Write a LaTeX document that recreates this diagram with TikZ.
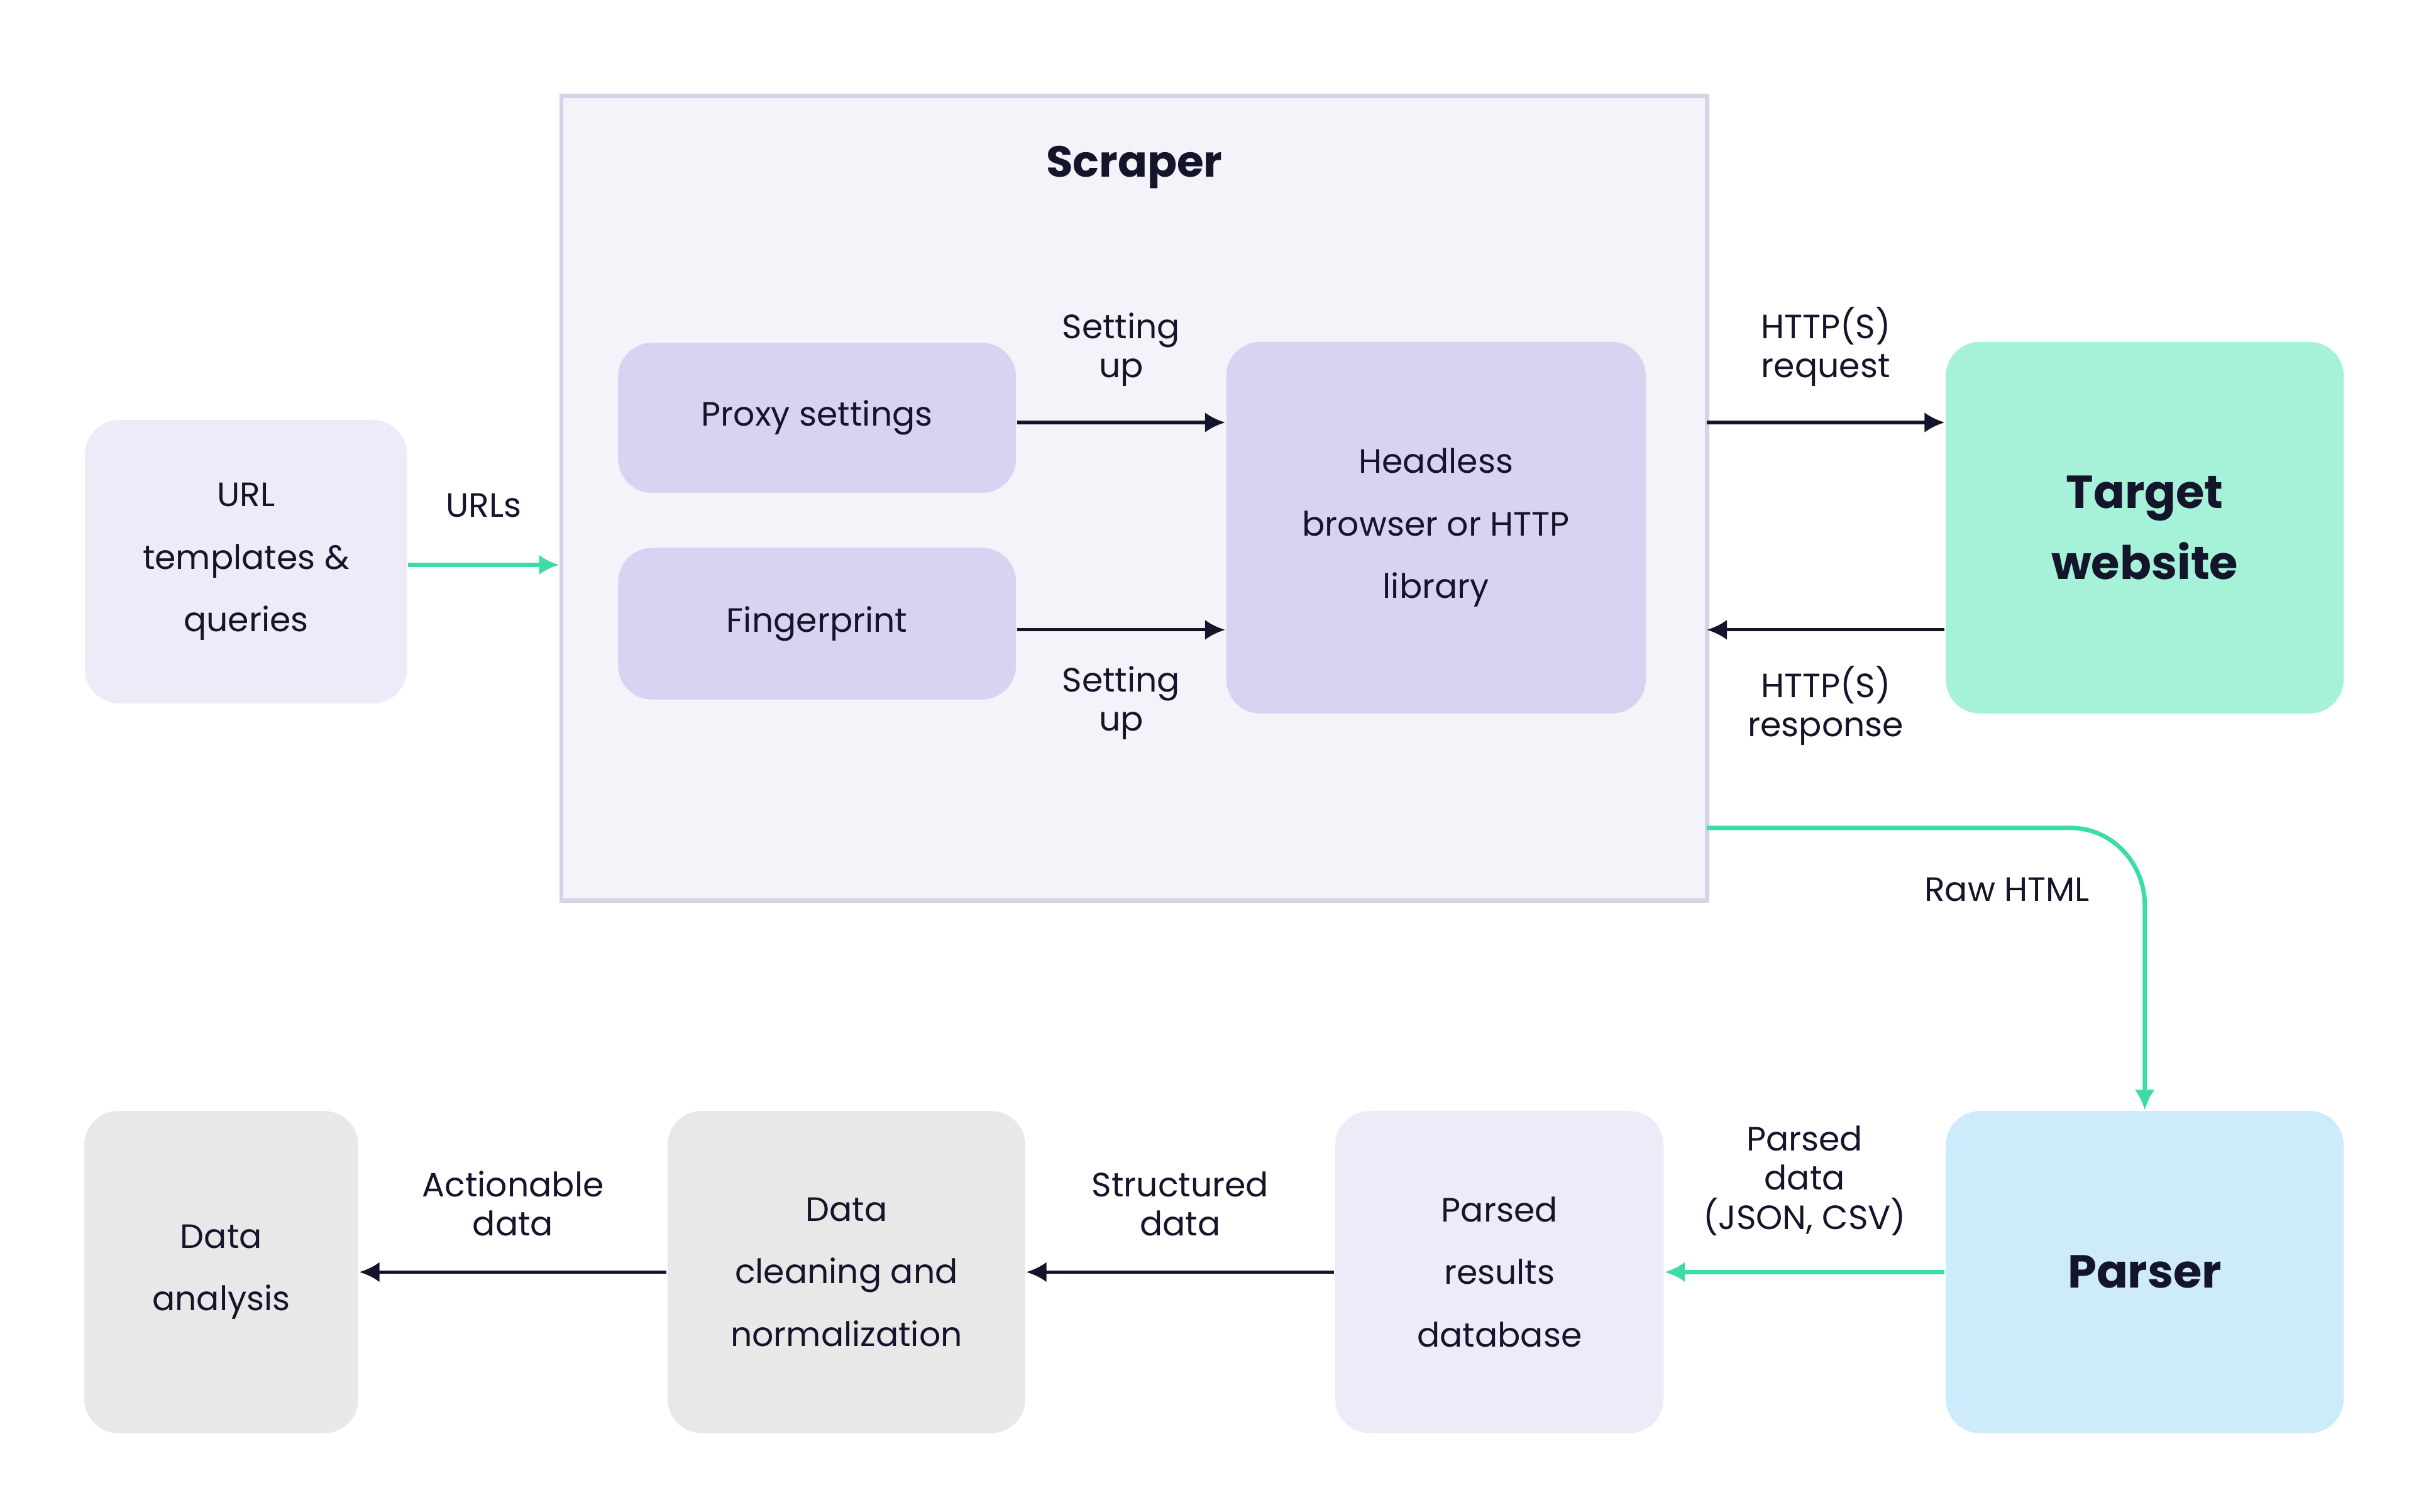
\documentclass[tikz,border=0pt]{standalone}
\usepackage{fontspec}
\setmainfont{Poppins}
\usetikzlibrary{arrows.meta,positioning}
\definecolor{lav}{HTML}{EEEBF8}
\definecolor{frame}{HTML}{F4F3F9}
\definecolor{framedraw}{HTML}{D6D3E8}
\definecolor{purp}{HTML}{D9D3F2}
\definecolor{mint}{HTML}{A6F2D9}
\definecolor{sky}{HTML}{CDEBFA}
\definecolor{greyb}{HTML}{E8E8E8}
\definecolor{teal}{HTML}{3DDBA8}
\definecolor{ink}{HTML}{14142B}
\tikzset{
  box/.style={rounded corners=0.22cm, align=center, text=ink, inner sep=0pt,
    font=\fontsize{6.2}{11.5}\selectfont},
  big/.style={box, font=\fontsize{8.5}{13}\selectfont\bfseries},
  lbl/.style={align=center, text=ink, font=\fontsize{6.2}{7.2}\selectfont},
  dark/.style={-{Latex[length=1.3mm,width=1.3mm]}, ink, line width=0.6pt},
  green/.style={-{Latex[length=1.3mm,width=1.3mm]}, teal, line width=0.8pt}
}
\begin{document}
\begin{tikzpicture}[x=0.01cm,y=-0.01cm]
\useasboundingbox[fill=white] (0,0) rectangle (1560,977);
% scraper frame
\node (scraper) [fill=frame, draw=framedraw, line width=0.8pt, minimum width=7.4cm, minimum height=5.2cm, inner sep=0pt] at (733,322) {};
\node (title) [lbl, font=\fontsize{8}{9}\selectfont\bfseries] at (733,108) {Scraper};
% boxes
\node (url) [box, fill=lav, minimum width=2.08cm, minimum height=1.83cm] at (159,363) {URL\\templates \&\\queries};
\node (proxy) [box, fill=purp, minimum width=2.57cm, minimum height=0.97cm] at (528,270) {Proxy settings};
\node (finger) [box, fill=purp, minimum width=2.57cm, minimum height=0.98cm] at (528,403) {Fingerprint};
\node (head) [box, fill=purp, minimum width=2.71cm, minimum height=2.4cm] at (928,341) {Headless\\browser or HTTP\\library};
\node (target) [big, fill=mint, minimum width=2.57cm, minimum height=2.4cm] at (1386,341) {Target\\website};
\node (parser) [big, fill=sky, minimum width=2.57cm, minimum height=2.08cm] at (1386,822) {Parser};
\node (db) [box, fill=lav, minimum width=2.12cm, minimum height=2.08cm] at (969,822) {Parsed\\results\\database};
\node (clean) [box, fill=greyb, minimum width=2.31cm, minimum height=2.08cm] at (547,822) {Data\\cleaning and\\normalization};
\node (anal) [box, fill=greyb, minimum width=1.77cm, minimum height=2.08cm] at (143,822) {Data\\analysis};
% connectors
\coordinate (req) at (1103,273);
\coordinate (resp) at (1103,407);
\coordinate (raw) at (1103,535);
\draw[green] (url.east |- 0,365) -- node[lbl, above=5pt] {URLs} (scraper.west |- 0,365);
\draw[dark] (proxy.east |- 0,273) -- node[lbl, above=3pt] {Setting\\up} (head.west |- 0,273);
\draw[dark] (finger.east |- 0,407) -- node[lbl, below=3pt] {Setting\\up} (head.west |- 0,407);
\draw[dark] (req) -- node[lbl, above=3pt] {HTTP(S)\\request} (target.west |- req);
\draw[dark] (target.west |- resp) -- node[lbl, below=3pt] {HTTP(S)\\response} (resp);
\draw[green] (raw) -- (1338,535) to[out=0,in=90] (parser.north |- 0,585) -- (parser.north);
\node (rawlbl) [lbl] at (1297,575) {Raw HTML};
\draw[green] (parser.west) -- node[lbl, above=3pt] {Parsed\\data\\(JSON, CSV)} (db.east);
\draw[dark] (db.west) -- node[lbl, above=3pt] {Structured\\data} (clean.east);
\draw[dark] (clean.west) -- node[lbl, above=3pt] {Actionable\\data} (anal.east);
\end{tikzpicture}
\end{document}
